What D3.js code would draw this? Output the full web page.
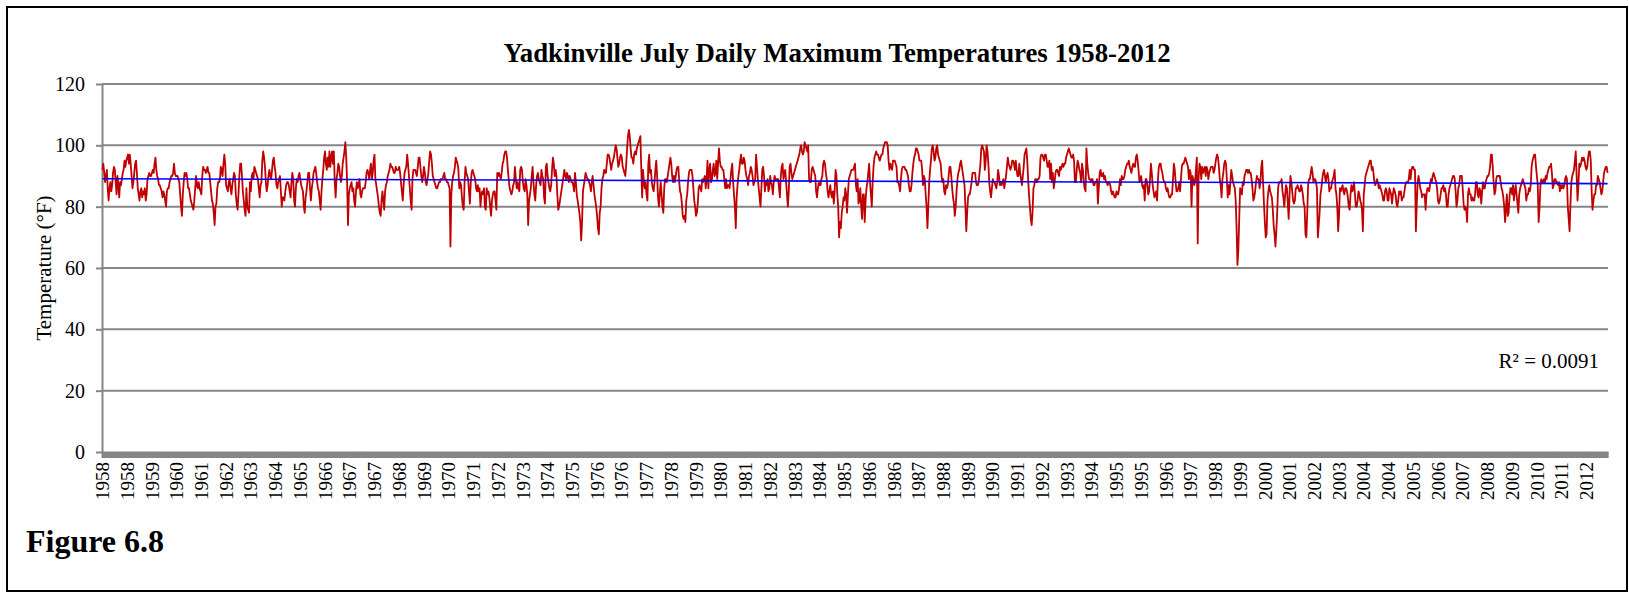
<!DOCTYPE html>
<html>
<head>
<meta charset="utf-8">
<script src="https://cdn.jsdelivr.net/npm/d3@7"></script>
<style>
  html, body { margin: 0; padding: 0; background: #fff; }
  svg { display: block; }
  text { font-family: "Liberation Serif", "Times New Roman", serif; fill: #000; }
</style>
</head>
<body>
<div id="chart"></div>
<script>
const title = 'Yadkinville July Daily Maximum Temperatures 1958-2012';
const yAxisTitle = 'Temperature (°F)';
const figureLabel = 'Figure 6.8';
const rSquaredLabel = 'R² = 0.0091';
const yTicks = [0, 20, 40, 60, 80, 100, 120];

// one category label every 28 days
const labelEvery = 28;
const xTickLabels = [
  '1958', '1958', '1959', '1960', '1961', '1962', '1963', '1964', '1965', '1966', '1967',
  '1967', '1968', '1969', '1970', '1971', '1972', '1973', '1974', '1975', '1976',
  '1976', '1977', '1978', '1979', '1980', '1981', '1982', '1983', '1984', '1985', '1986',
  '1986', '1987', '1988', '1989', '1990', '1991', '1992', '1993', '1994', '1995',
  '1995', '1996', '1997', '1998', '1999', '2000', '2001', '2002', '2003', '2004',
  '2004', '2005', '2006', '2007', '2008', '2009', '2010', '2011', '2012'
];

// daily July maximum (°F), July 1..31 for each year
const julyMaxByYear = [
  [92,94,91,88,90,92,86,82,86,88,85,87,91,93,92,88,84,90,87,83,88,87,89,91,92,95,93,95,96,97,94], // 1958
  [97,94,90,86,88,91,94,95,91,86,84,82,85,86,83,85,84,86,82,84,89,90,91,90,90,91,92,91,94,96,92], // 1959
  [90,89,87,87,86,85,83,85,84,82,80,85,86,86,88,89,90,90,91,94,91,90,90,90,89,88,84,80,77,84,88], // 1960
  [91,90,91,89,86,86,84,82,81,80,79,82,86,90,87,86,88,86,85,84,90,93,92,92,91,92,93,91,91,88,85], // 1961
  [82,81,78,74,80,81,86,88,88,89,93,92,90,94,97,94,87,86,85,88,89,86,84,87,89,91,90,84,81,79,84], // 1962
  [90,94,94,90,85,82,79,77,86,80,79,78,88,85,90,91,89,93,92,91,90,89,86,83,87,88,95,98,96,93,88], // 1963
  [85,87,90,92,90,89,92,95,96,93,91,87,86,88,89,90,85,80,83,83,82,85,87,88,88,87,85,83,88,91,89], // 1964
  [82,80,86,89,88,90,91,89,87,86,85,80,78,83,85,88,91,91,86,82,86,88,91,92,93,91,88,86,85,82,79], // 1965
  [85,89,92,96,98,94,92,96,93,98,93,96,98,94,98,88,83,89,91,94,93,90,88,90,94,96,98,101,96,88,74], // 1966
  [84,86,87,88,85,86,82,80,85,88,86,87,89,84,83,85,86,86,86,88,91,92,91,89,92,94,89,91,95,97,89], // 1967
  [87,85,83,80,78,77,82,85,82,79,85,87,88,90,91,92,94,93,93,92,91,91,93,92,92,92,93,91,88,85,82], // 1968
  [87,91,92,93,97,94,90,86,82,79,89,92,92,92,91,90,93,96,96,93,90,88,90,93,91,88,87,89,91,95,98], // 1969
  [97,94,90,89,88,87,86,86,87,88,88,89,89,89,90,91,89,89,88,88,87,86,67,84,88,90,91,93,96,95,94], // 1970
  [92,86,88,87,83,80,79,88,93,91,90,89,85,81,88,91,92,91,90,89,86,85,87,85,86,80,84,85,84,86,80], // 1971
  [79,86,84,85,83,80,77,82,84,85,85,82,79,91,90,91,90,89,91,94,95,97,98,98,96,92,89,86,85,84,85], // 1972
  [87,88,93,89,86,88,86,85,92,93,92,88,86,85,89,87,84,74,82,84,86,90,93,88,84,82,87,90,91,89,88], // 1973
  [87,92,90,89,83,81,93,94,90,88,86,85,87,92,96,94,90,92,90,84,79,80,82,84,86,88,90,92,90,89,91], // 1974
  [90,88,90,89,88,88,87,85,91,88,84,82,80,78,75,69,75,85,87,89,91,90,89,89,88,87,85,88,90,87,84], // 1975
  [82,80,77,73,71,78,80,86,89,90,92,91,91,94,97,97,96,94,92,94,95,96,98,100,99,96,93,94,96,97,96], // 1976
  [93,92,91,90,94,99,103,105,103,99,96,96,94,97,98,97,99,100,101,102,103,93,83,92,88,86,88,84,82,94,97], // 1977
  [91,92,88,86,85,88,92,95,90,83,80,84,88,84,80,78,86,89,89,88,90,92,94,96,94,90,88,90,88,90,92], // 1978
  [93,93,88,85,84,81,77,76,77,75,82,84,88,91,92,92,92,90,86,82,80,77,78,81,86,87,86,85,89,88,89], // 1979
  [90,86,89,95,86,92,94,88,89,92,94,90,91,95,89,94,99,95,93,93,92,92,89,86,89,86,87,87,86,89,92], // 1980
  [94,88,84,80,73,83,87,90,92,95,97,94,94,96,95,92,90,89,87,90,91,93,92,90,87,88,89,97,93,89,86], // 1981
  [83,80,86,92,93,90,85,88,87,89,85,86,90,88,87,84,88,90,89,89,89,89,86,83,90,93,94,89,91,92,88], // 1982
  [84,80,85,93,94,91,89,90,91,92,93,94,95,96,97,99,100,98,97,98,101,100,99,98,100,89,88,88,92,93,92], // 1983
  [91,90,85,83,86,88,87,87,89,90,94,95,94,91,89,85,83,85,87,84,83,85,81,85,92,90,84,80,70,75,73], // 1984
  [78,80,83,82,86,84,78,84,89,90,91,92,92,92,93,94,87,85,89,81,82,86,80,76,84,84,75,82,86,88,91], // 1985
  [94,88,84,80,88,93,96,97,98,97,97,96,95,96,97,97,99,100,101,101,101,100,95,92,94,93,92,95,95,95,94], // 1986
  [93,88,88,87,85,89,92,93,93,93,92,92,91,90,87,85,85,87,91,94,96,97,99,99,98,97,95,95,95,92,87], // 1987
  [90,89,84,80,73,80,88,92,95,99,100,98,95,96,99,100,97,96,95,94,90,88,89,85,84,87,86,87,90,93,93], // 1988
  [90,86,83,81,77,80,85,89,91,92,94,95,93,91,89,87,80,72,78,83,84,84,86,88,91,91,91,91,88,87,87], // 1989
  [88,91,94,99,100,99,98,92,95,100,98,94,88,85,83,86,89,88,88,87,86,88,92,90,87,88,87,88,89,86,88], // 1990
  [90,93,96,94,93,92,93,95,95,94,92,95,92,90,90,94,91,89,87,90,93,97,98,99,95,89,84,80,76,74,78], // 1991
  [86,87,89,89,88,89,89,90,96,97,97,96,95,97,97,95,93,93,95,89,94,88,91,86,88,91,92,92,91,90,93], // 1992
  [92,93,94,93,94,94,96,97,98,99,98,97,96,96,97,95,88,88,92,95,94,92,91,88,94,92,88,86,85,99,94], // 1993
  [91,89,89,88,89,89,87,87,88,88,89,81,86,91,92,90,90,91,89,90,88,88,87,88,88,87,85,84,85,84,83], // 1994
  [83,85,84,84,86,89,87,90,89,89,90,92,93,94,94,95,93,92,91,93,94,93,93,96,97,95,92,88,89,90,87], // 1995
  [86,87,82,89,89,87,84,85,89,94,91,87,85,83,84,85,82,89,93,94,94,92,91,89,88,88,86,85,86,84,83], // 1996
  [83,84,84,89,94,92,88,85,85,86,88,85,89,93,94,94,95,96,95,94,93,89,92,91,80,90,89,87,88,92,96], // 1997
  [68,89,94,93,89,93,91,92,93,90,93,92,89,91,92,93,93,93,91,92,94,96,97,96,93,89,87,83,89,91,94], // 1998
  [95,94,89,83,87,84,88,92,90,88,87,86,82,73,61,66,76,86,85,84,88,87,90,91,92,92,91,92,91,91,89], // 1999
  [86,82,83,85,88,90,89,89,86,88,93,95,88,81,75,70,71,82,85,87,85,84,83,79,74,71,67,72,78,86,88], // 2000
  [88,88,89,85,83,80,84,87,86,81,76,84,90,88,85,82,81,82,86,86,87,86,85,85,87,86,84,81,80,71,70], // 2001
  [78,87,89,89,91,93,91,88,89,89,88,86,70,74,78,84,86,89,91,92,90,88,90,91,89,85,86,86,88,89,90], // 2002
  [92,86,84,80,72,77,86,85,86,87,85,84,86,86,85,83,80,79,84,87,85,86,88,84,80,80,82,85,84,82,81], // 2003
  [79,72,84,87,90,91,92,93,94,95,95,92,93,91,88,87,88,89,88,86,87,86,85,84,82,82,85,86,85,82,82], // 2004
  [86,85,84,81,84,86,85,84,81,80,82,85,84,85,82,83,83,85,87,88,88,88,89,92,89,92,93,93,92,92,72], // 2005
  [81,88,90,88,86,85,83,84,84,84,79,84,86,86,85,87,89,88,90,91,90,89,88,86,82,81,82,84,86,86,87], // 2006
  [85,86,84,80,80,84,86,87,88,89,90,90,89,85,80,82,86,87,90,90,90,86,81,79,80,79,75,84,86,84,84], // 2007
  [82,83,82,82,84,88,88,84,83,86,85,81,85,88,86,86,88,89,90,90,91,93,97,97,93,88,84,85,89,90,90], // 2008
  [90,90,88,86,85,83,80,75,80,84,77,78,83,86,86,84,87,82,85,87,84,81,78,84,86,87,88,89,88,87,86], // 2009
  [82,84,84,86,85,87,93,95,96,97,97,93,90,87,75,80,87,89,88,88,89,88,90,89,91,92,93,93,94,91,86], // 2010
  [87,89,89,88,88,87,88,85,87,86,87,86,87,89,90,89,80,76,72,81,88,90,91,92,95,98,90,82,87,94,93], // 2011
  [94,96,95,96,95,93,92,93,96,98,98,95,85,79,82,84,84,87,87,90,89,88,86,84,85,88,91,92,93,93,91]  // 2012
];

const width = 1629;
const height = 592;
const margin = { top: 84, right: 21, bottom: 140, left: 102 };
const gridColor = '#868686';

const svg = d3.select('#chart')
  .append('svg')
    .attr('width', width)
    .attr('height', height);

// outer frame
svg.append('rect')
  .attr('x', 7).attr('y', 7)
  .attr('width', 1620).attr('height', 584)
  .attr('fill', 'none')
  .attr('stroke', '#000')
  .attr('stroke-width', 2);

const temps = julyMaxByYear.flat();

const x = d3.scaleBand()
  .domain(d3.range(temps.length))
  .range([margin.left, width - margin.right]);
const cx = i => x(i) + x.bandwidth() / 2;

const y = d3.scaleLinear()
  .domain([0, 120])
  .range([height - margin.bottom, margin.top]);

// horizontal gridlines
svg.append('g')
  .selectAll('line')
  .data(yTicks.filter(d => d > 0))
  .enter().append('line')
    .attr('x1', margin.left)
    .attr('x2', width - margin.right)
    .attr('y1', d => y(d))
    .attr('y2', d => y(d))
    .attr('stroke', gridColor)
    .attr('stroke-width', 2);

// y axis
const yAxis = svg.append('g')
  .attr('transform', `translate(${margin.left},0)`)
  .call(d3.axisLeft(y).tickValues(yTicks).tickSize(6).tickSizeOuter(0).tickPadding(11))
  .attr('font-family', null)
  .attr('font-size', 20);
yAxis.select('.domain').attr('stroke', gridColor).attr('stroke-width', 2);
yAxis.selectAll('.tick line').attr('stroke', gridColor).attr('stroke-width', 2);

// x axis: one tick per day, which merges into a solid band
const xAxis = svg.append('g')
  .attr('transform', `translate(0,${y(0)})`)
  .call(d3.axisBottom(x).tickValues(x.domain()).tickSize(6).tickSizeOuter(0).tickFormat(''));
xAxis.select('.domain').attr('stroke', gridColor).attr('stroke-width', 2);
xAxis.selectAll('.tick line').attr('stroke', gridColor).attr('stroke-width', 2);

// year labels
svg.append('g')
  .selectAll('text')
  .data(xTickLabels)
  .enter().append('text')
    .attr('transform', (d, i) => `translate(${cx(i * labelEvery)},${y(0) + 10}) rotate(-90)`)
    .attr('text-anchor', 'end')
    .attr('dy', '0.35em')
    .attr('font-size', 19)
    .text(d => d);

// series
const line = d3.line()
  .x((d, i) => cx(i))
  .y(d => y(d));

svg.append('path')
  .datum(temps)
  .attr('fill', 'none')
  .attr('stroke', '#C00000')
  .attr('stroke-width', 1.8)
  .attr('stroke-linejoin', 'round')
  .attr('d', line);

// linear trend
const n = temps.length;
const meanX = (n - 1) / 2;
const meanY = d3.mean(temps);
let sxy = 0, sxx = 0;
temps.forEach((t, i) => {
  sxy += (i - meanX) * (t - meanY);
  sxx += (i - meanX) * (i - meanX);
});
const slope = sxy / sxx;
const intercept = meanY - slope * meanX;

svg.append('line')
  .attr('x1', cx(0))
  .attr('x2', cx(n - 1))
  .attr('y1', y(intercept))
  .attr('y2', y(intercept + slope * (n - 1)))
  .attr('stroke', '#0000FF')
  .attr('stroke-width', 1.6);

// texts
svg.append('text')
  .attr('x', 837)
  .attr('y', 62)
  .attr('text-anchor', 'middle')
  .attr('font-size', 26.8)
  .attr('font-weight', 'bold')
  .text(title);

svg.append('text')
  .attr('transform', `translate(44,${(y(0) + y(120)) / 2}) rotate(-90)`)
  .attr('text-anchor', 'middle')
  .attr('dy', '0.35em')
  .attr('font-size', 21)
  .text(yAxisTitle);

svg.append('text')
  .attr('x', 1599)
  .attr('y', 368)
  .attr('text-anchor', 'end')
  .attr('font-size', 21)
  .text(rSquaredLabel);

svg.append('text')
  .attr('x', 26)
  .attr('y', 552)
  .attr('font-size', 32)
  .attr('font-weight', 'bold')
  .text(figureLabel);
</script>
</body>
</html>
